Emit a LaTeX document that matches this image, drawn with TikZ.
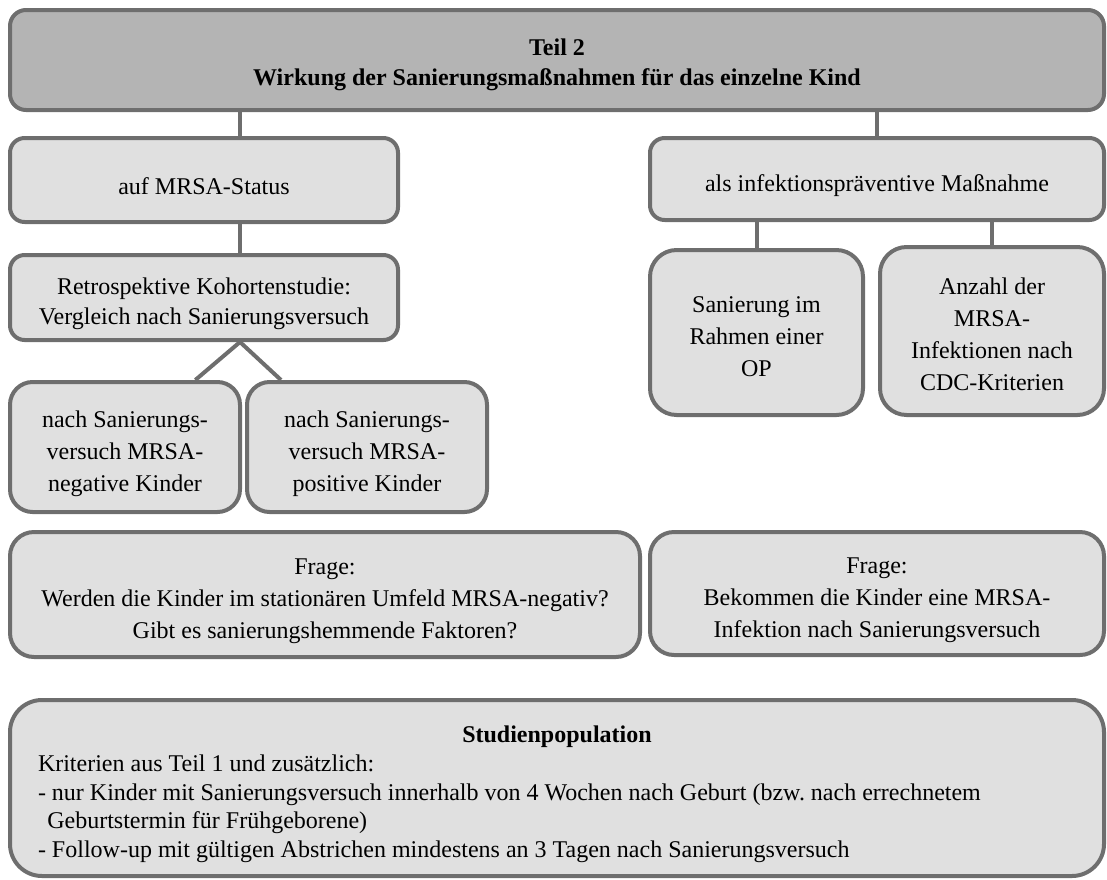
\documentclass[tikz,border=0pt]{standalone}
\usepackage{fontspec}
\setmainfont{Liberation Serif}
\usepackage{xcolor}

\definecolor{rimgray}{RGB}{110,110,110}
\definecolor{topfill}{RGB}{180,180,180}
\definecolor{boxfill}{RGB}{224,224,224}
\newcommand{\lowr}{\rule{0pt}{22pt}}

\begin{document}
\frenchspacing
\begin{tikzpicture}[x=0.75pt,y=-0.75pt,
  box/.style={draw=rimgray,line width=3pt,fill=boxfill,rounded corners=#1,
    align=center,inner sep=0pt,font=\fontsize{18}{24}\selectfont},
  box/.default=11pt,
  tight/.style={font=\fontsize{18}{22.5}\selectfont},
  conn/.style={draw=rimgray,line width=3pt}]
\useasboundingbox (0,0) rectangle (1107,879);
\draw (557,60) node[box=12pt,tight,fill=topfill,minimum width=820.5pt,minimum height=75pt](teil) {\rule{0pt}{19pt}\textbf{Teil 2}\\\textbf{Wirkung der Sanierungsmaßnahmen für das einzelne Kind}};
\draw (204,180) node[box,minimum width=291pt,minimum height=63pt](status) {\lowr auf MRSA-Status};
\draw (877,179) node[box,minimum width=340.5pt,minimum height=61.5pt](praev) {\lowr als infektionspräventive Maßnahme};
\draw (204,297.5) node[box,tight,minimum width=291pt,minimum height=63.75pt](retro) {\lowr Retrospektive Kohortenstudie:\\Vergleich nach Sanierungsversuch};
\draw (125,447) node[box=17pt,minimum width=172.5pt,minimum height=97.5pt](neg) {\lowr nach Sanierungs-\\versuch MRSA-\\negative Kinder};
\draw (367,447) node[box=17pt,minimum width=180pt,minimum height=97.5pt](pos) {\lowr nach Sanierungs-\\versuch MRSA-\\positive Kinder};
\draw (756.5,332.5) node[box=20pt,minimum width=159.75pt,minimum height=123.75pt](op) {\rule{0pt}{18pt}Sanierung im\\Rahmen einer\\OP};
\draw (992,331) node[box=20pt,minimum width=168pt,minimum height=126pt](cdc) {\rule{0pt}{18pt}Anzahl der\\MRSA-\\Infektionen nach\\CDC-Kriterien};
\draw (325,594.5) node[box=18pt,minimum width=472.5pt,minimum height=93.75pt](frageL) {\lowr Frage:\\Werden die Kinder im stationären Umfeld MRSA-negativ?\\Gibt es sanierungshemmende Faktoren?};
\draw (877,593.5) node[box=18pt,minimum width=340.5pt,minimum height=92.25pt](frageR) {\lowr Frage:\\Bekommen die Kinder eine MRSA-\\Infektion nach Sanierungsversuch};
\draw (557,788) node[box=24pt,font=\fontsize{18}{21.5}\selectfont,align=flush left,text width=778.5pt,minimum width=820.5pt,minimum height=132pt](studie) {{\centering\lowr\textbf{Studienpopulation}\par}
Kriterien aus Teil 1 und zusätzlich:\\
- nur Kinder mit Sanierungsversuch innerhalb von 4 Wochen nach Geburt (bzw. nach errechnetem\\
\hspace*{7pt}Geburtstermin für Frühgeborene)\\
- Follow-up mit gültigen Abstrichen mindestens an 3 Tagen nach Sanierungsversuch};
\coordinate (lcol) at (240,0);
\draw[conn] (teil.south -| lcol) -- (status.north -| lcol);
\draw[conn] (status.south -| lcol) -- (retro.north -| lcol);
\draw[conn] (retro.south -| lcol) -- ([xshift=-35pt]neg.north east);
\draw[conn] (retro.south -| lcol) -- ([xshift=27pt]pos.north west);
\draw[conn] (teil.south -| praev.north) -- (praev.north);
\draw[conn] (praev.south -| op.north) -- (op.north);
\draw[conn] (praev.south -| cdc.north) -- (cdc.north);
\end{tikzpicture}
\end{document}
